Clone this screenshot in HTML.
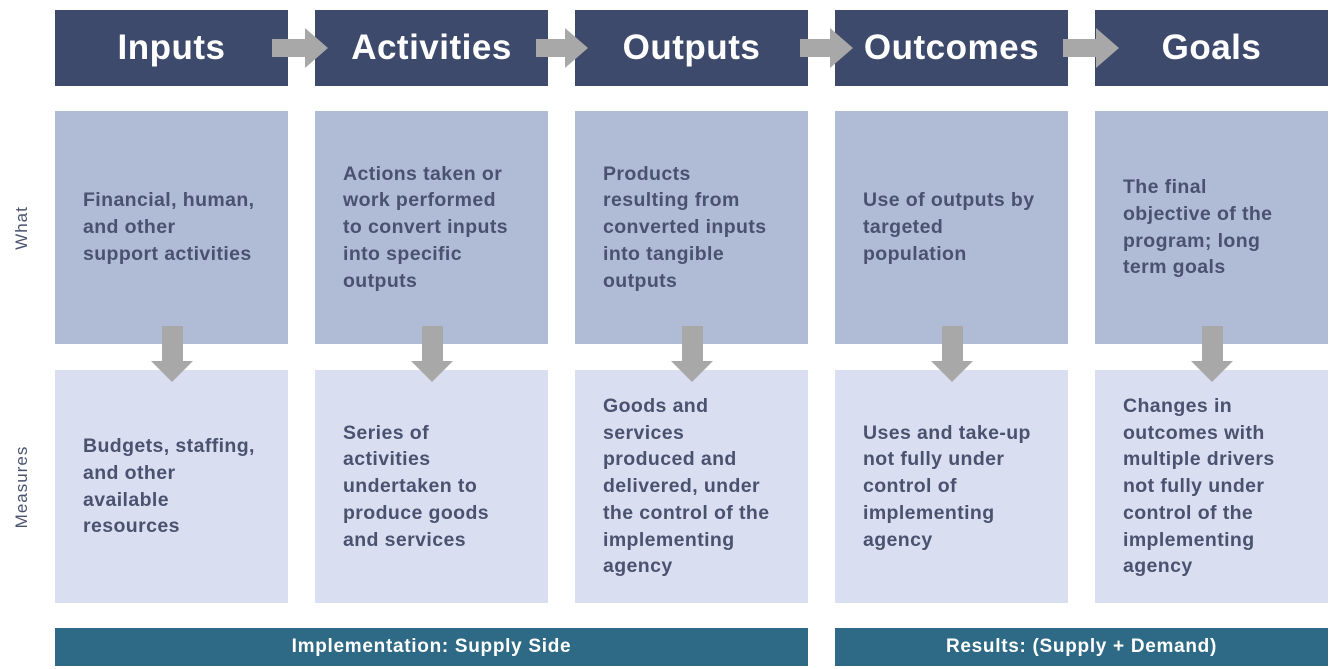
<!DOCTYPE html>
<html><head><style>
*{margin:0;padding:0;box-sizing:border-box}
body{width:1335px;height:669px;background:#fff;position:relative;font-family:"Liberation Sans",sans-serif;overflow:hidden}
.h{position:absolute;top:10px;height:76px;width:233px;background:#3d4a6b;color:#fff;font-weight:bold;font-size:35px;letter-spacing:0.5px;display:flex;align-items:center;justify-content:center}
.b{position:absolute;width:233px;height:233px;display:flex;align-items:center;padding-left:28px;padding-right:0;color:#4a5270;font-weight:bold;font-size:19.5px;line-height:26.7px;letter-spacing:0.4px;white-space:nowrap}
.w{top:111px;background:#b0bbd6}
.m{top:370px;background:#d9dff0}
.bar{position:absolute;top:628px;height:38px;background:#2e6a85;color:#fff;font-weight:bold;font-size:19px;letter-spacing:0.7px;display:flex;align-items:center;justify-content:center}
.lab{position:absolute;left:22px;color:#4a5270;font-size:17px;letter-spacing:1px;transform:translate(-50%,-50%) rotate(-90deg);white-space:nowrap}
svg{position:absolute;left:0;top:0}
</style></head><body>
<div class="h" style="left:55px">Inputs</div>
<div class="h" style="left:315px">Activities</div>
<div class="h" style="left:575px">Outputs</div>
<div class="h" style="left:835px">Outcomes</div>
<div class="h" style="left:1095px">Goals</div>

<div class="b w" style="left:55px">Financial, human,<br>and other<br>support activities</div>
<div class="b w" style="left:315px">Actions taken or<br>work performed<br>to convert inputs<br>into specific<br>outputs</div>
<div class="b w" style="left:575px">Products<br>resulting from<br>converted inputs<br>into tangible<br>outputs</div>
<div class="b w" style="left:835px">Use of outputs by<br>targeted<br>population</div>
<div class="b w" style="left:1095px">The final<br>objective of the<br>program; long<br>term goals</div>

<div class="b m" style="left:55px">Budgets, staffing,<br>and other<br>available<br>resources</div>
<div class="b m" style="left:315px">Series of<br>activities<br>undertaken to<br>produce goods<br>and services</div>
<div class="b m" style="left:575px">Goods and<br>services<br>produced and<br>delivered, under<br>the control of the<br>implementing<br>agency</div>
<div class="b m" style="left:835px">Uses and take-up<br>not fully under<br>control of<br>implementing<br>agency</div>
<div class="b m" style="left:1095px">Changes in<br>outcomes with<br>multiple drivers<br>not fully under<br>control of the<br>implementing<br>agency</div>

<div class="bar" style="left:55px;width:753px">Implementation: Supply Side</div>
<div class="bar" style="left:835px;width:493px">Results: (Supply + Demand)</div>

<div class="lab" style="top:228px">What</div>
<div class="lab" style="top:487px">Measures</div>

<svg width="1335" height="669">
<g fill="#a8a8a8">
<polygon points="272,39 305,39 305,28 328,48 305,68 305,57 272,57"/>
<polygon points="536,39 565,39 565,28 588,48 565,68 565,57 536,57"/>
<polygon points="800,39 830,39 830,28 853,48 830,68 830,57 800,57"/>
<polygon points="1063,39 1096,39 1096,28 1119,48 1096,68 1096,57 1063,57"/>
</g>
<g fill="#a8a8a8">
<polygon points="162,326 183,326 183,361 193,361 172,382 151,361 162,361"/>
<polygon points="422,326 443,326 443,361 453,361 432,382 411,361 422,361"/>
<polygon points="682,326 703,326 703,361 713,361 692,382 671,361 682,361"/>
<polygon points="942,326 963,326 963,361 973,361 952,382 931,361 942,361"/>
<polygon points="1202,326 1223,326 1223,361 1233,361 1212,382 1191,361 1202,361"/>
</g>
</svg>
</body></html>
